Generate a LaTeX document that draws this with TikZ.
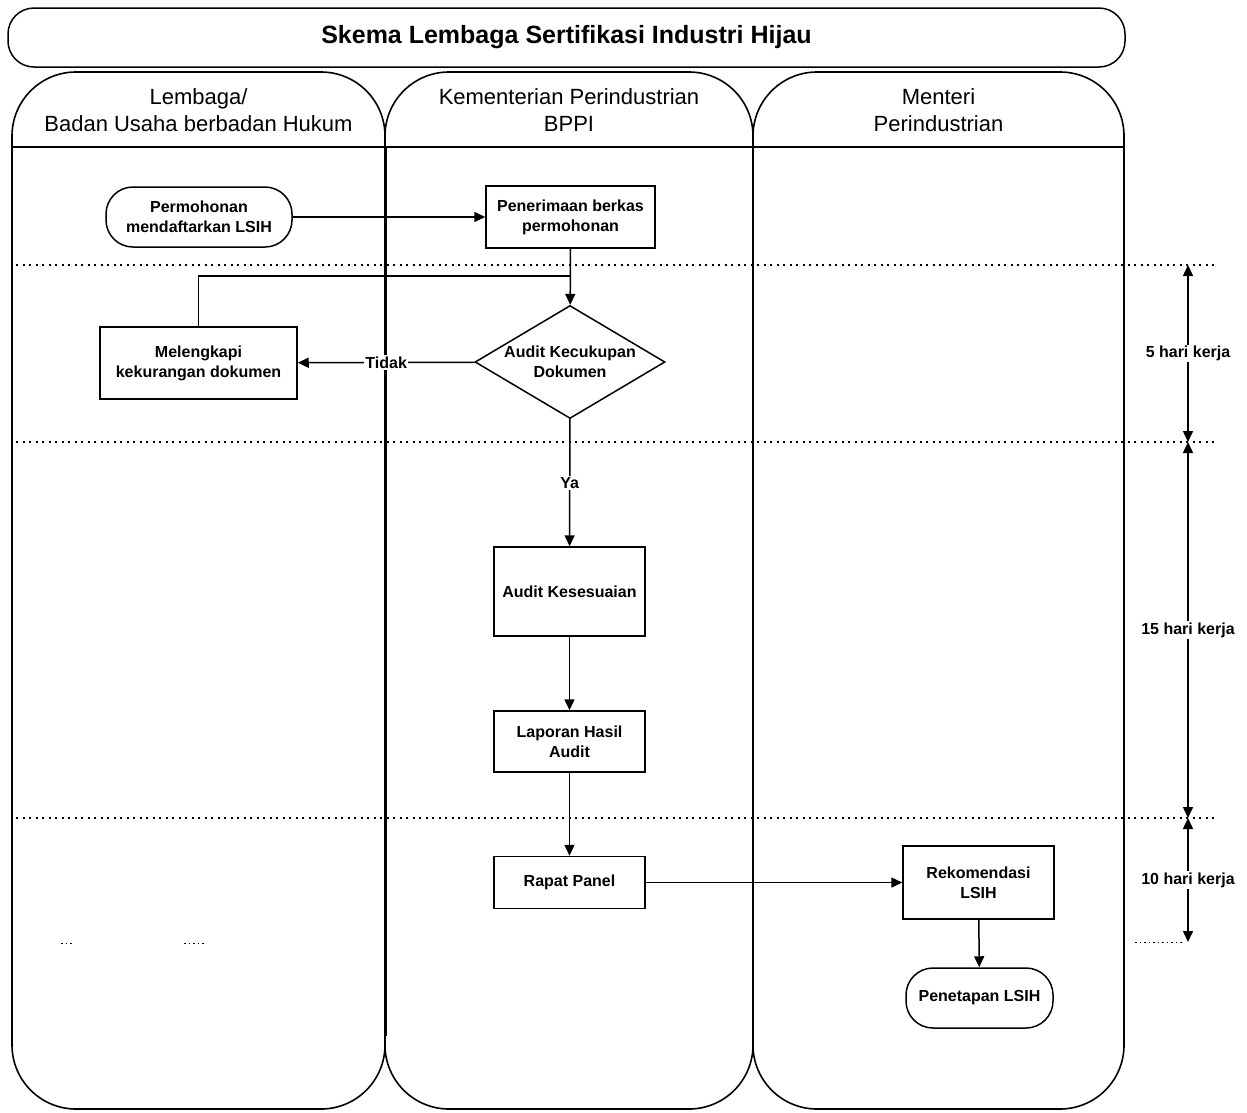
\documentclass[tikz,border=0pt]{standalone}
\usepackage{fontspec}
\setmainfont{Liberation Sans}
\usetikzlibrary{arrows.meta,shapes.geometric}
\begin{document}
\begin{tikzpicture}[x=1pt,y=-1pt,
  every node/.style={font=\fontsize{16}{20}\selectfont\bfseries, align=center},
  lane/.style={draw, line width=1.6pt, rounded corners=64pt, inner sep=0pt},
  head/.style={font=\fontsize{22}{27}\selectfont},
  box/.style={draw, line width=1.5pt, inner sep=0pt},
  stadium/.style={draw, line width=1.5pt, rounded corners=27pt, inner sep=0pt},
  decision/.style={draw, diamond, aspect=1.68, line width=1.5pt, inner sep=0pt, minimum width=190pt, minimum height=113pt},
  conn/.style={line width=1.5pt},
  arr/.style={conn, -{Triangle[length=11pt,width=10pt]}},
  dbl/.style={line width=1.5pt, {Triangle[length=11pt,width=10pt]}-{Triangle[length=11pt,width=10pt]}},
  dotline/.style={line width=1.3pt, dash pattern=on 2pt off 4.5pt},
  lbl/.style={fill=white, inner sep=1.5pt}
]
\useasboundingbox (0,0) rectangle (1247,1112);

% title
\node[draw, line width=1.5pt, rounded corners=26pt, minimum width=1117pt, minimum height=59pt,
      font=\fontsize{25}{30}\selectfont\bfseries] (title) at (566.5,37.5) {Skema Lembaga Sertifikasi Industri Hijau};

% lanes
\node[lane, minimum width=373pt, minimum height=1037pt] (lane1) at (198.5,590.5) {};
\node[lane, minimum width=368pt, minimum height=1037pt] (lane2) at (569,590.5) {};
\node[lane, minimum width=371pt, minimum height=1037pt] (lane3) at (938.5,590.5) {};
\draw[line width=2.6pt] (lane1.north east) ++(0,75) -- ++(0,890);
\draw[line width=1.6pt] (12,147) -- (1124,147);

\node[head] (h1) at (198.5,110.5) {Lembaga/\\Badan Usaha berbadan Hukum};
\node[head] (h2) at (569,110.5) {Kementerian Perindustrian\\BPPI};
\node[head] (h3) at (938.5,110.5) {Menteri\\Perindustrian};

% time separators
\draw[dotline] (16,265) -- (1217,265);
\draw[dotline] (16,442) -- (1217,442);
\draw[dotline] (16,818) -- (1217,818);
\draw[line width=0.8pt, dash pattern=on 1.5pt off 3pt] (1135,942) -- (1183,942);
\draw[line width=0.8pt, dash pattern=on 1.5pt off 3pt] (61,943) -- (73,943);
\draw[line width=0.8pt, dash pattern=on 1.5pt off 3pt] (184,943) -- (205,943);

% flow nodes
\node[stadium, minimum width=186pt, minimum height=60pt] (perm) at (199,217) {Permohonan\\mendaftarkan LSIH};
\node[box, minimum width=169pt, minimum height=62pt] (pen) at (570.5,217) {Penerimaan berkas\\permohonan};
\node[decision] (dec) at (570,362) {Audit Kecukupan\\Dokumen};
\node[box, minimum width=197pt, minimum height=72pt] (mel) at (198.5,363) {Melengkapi\\kekurangan dokumen};
\node[box, minimum width=151pt, minimum height=89pt] (aud) at (569.5,591.5) {Audit Kesesuaian};
\node[box, minimum width=151pt, minimum height=61pt] (lap) at (569.5,741.5) {Laporan Hasil\\Audit};
\node[box, minimum width=151pt, minimum height=52pt] (rap) at (569.5,882.5) {Rapat Panel};
\node[box, minimum width=151pt, minimum height=73pt] (rek) at (978.5,882.5) {Rekomendasi\\LSIH};
\node[stadium, minimum width=147pt, minimum height=60pt] (pnt) at (979.5,998) {Penetapan LSIH};
\coordinate (j) at (570.5,276);

% connectors
\draw[arr] (perm) -- (pen);
\draw[arr] (pen) -- (dec);
\draw[conn] (mel.north) |- (j);
\draw[arr] (dec) -- node[lbl] (tidak) {Tidak} (mel);
\draw[arr] (dec) -- node[lbl] (ya) {Ya} (aud);
\draw[arr] (aud) -- (lap);
\draw[arr] (lap) -- (rap);
\draw[arr] (rap) -- (rek);
\draw[arr] (rek) -- (pnt);

% durations
\coordinate (t0) at (1188,265);
\coordinate (t1) at (1188,442);
\coordinate (t2) at (1188,818);
\coordinate (t3) at (1188,942);
\draw[dbl] (t0) -- node[lbl] (d1) {5 hari kerja} (t1);
\draw[dbl] (t1) -- node[lbl] (d2) {15 hari kerja} (t2);
\draw[dbl] (t2) -- node[lbl] (d3) {10 hari kerja} (t3);
\end{tikzpicture}
\end{document}
